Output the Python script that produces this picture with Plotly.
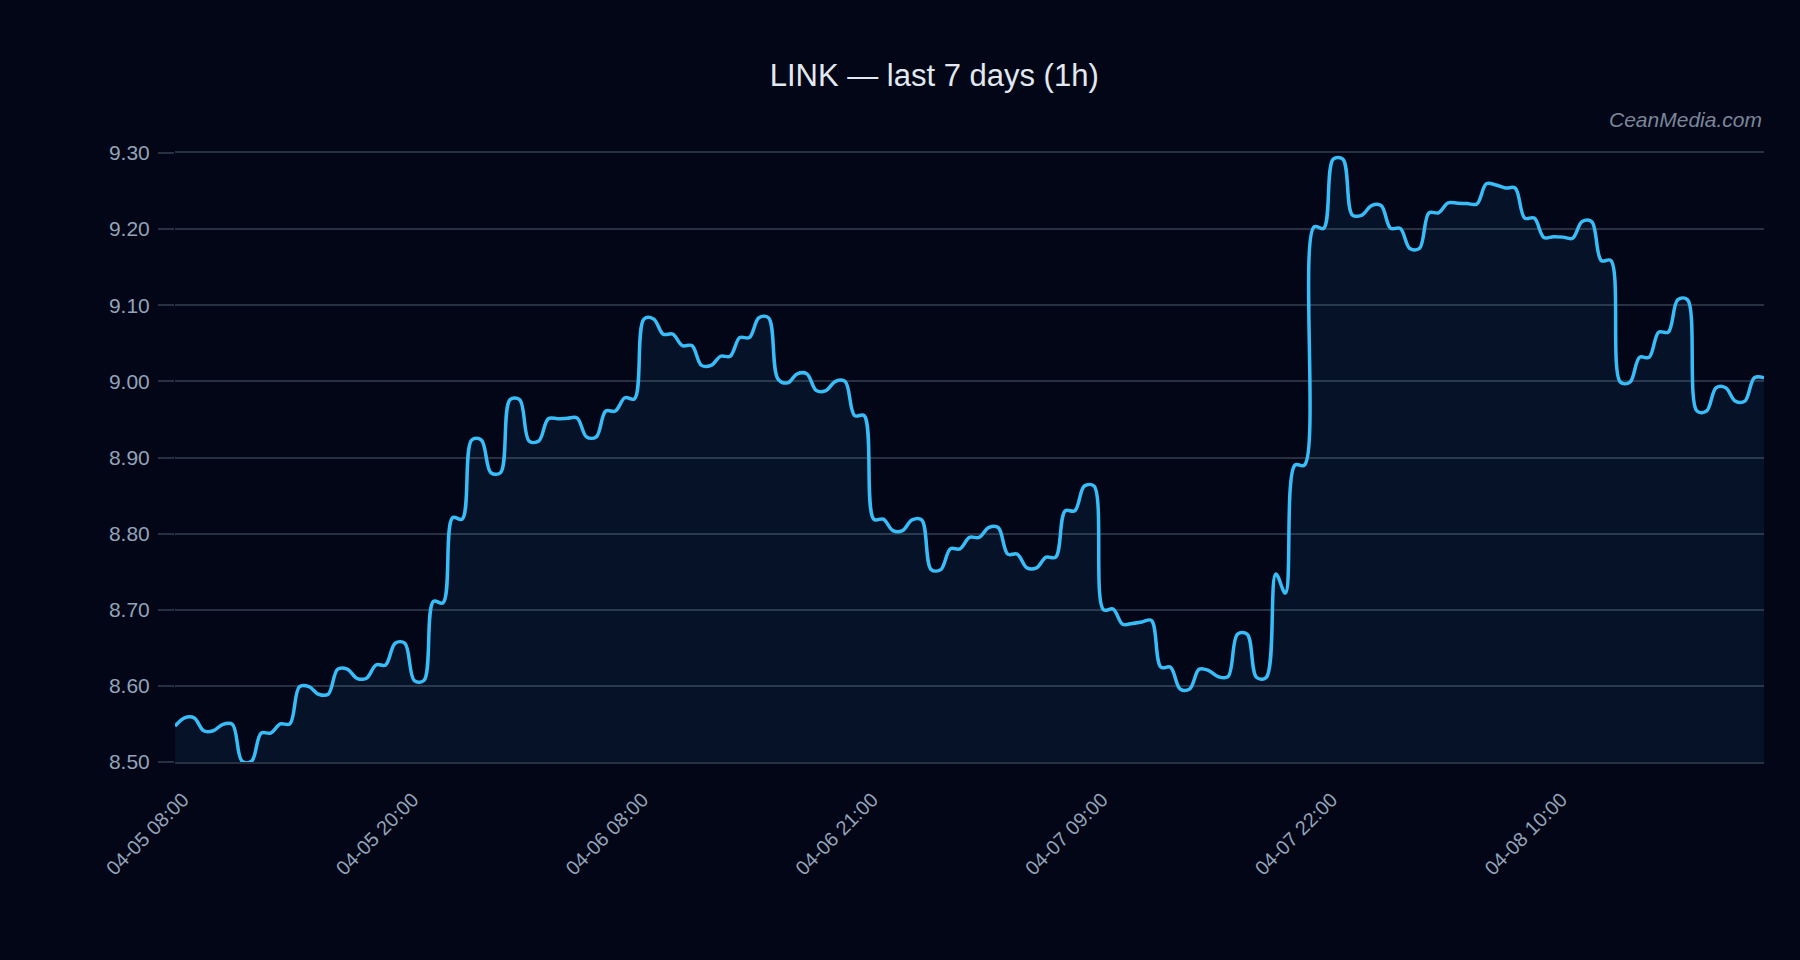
import plotly.graph_objects as go

# ---- data ----
tick_labels = ["04-05 08:00", "04-05 20:00", "04-06 08:00", "04-06 21:00",
               "04-07 09:00", "04-07 22:00", "04-08 10:00"]
tick_index = [0, 24, 48, 72, 96, 120, 144]

prices = [
    8.547,
    8.558, 8.558, 8.541, 8.541, 8.5495, 8.5495, 8.501, 8.501, 8.538, 8.538,
    8.550, 8.550, 8.599, 8.599, 8.589, 8.589, 8.622, 8.622, 8.610, 8.610,
    8.6275, 8.6275, 8.656, 8.656, 8.607, 8.607, 8.711, 8.709, 8.821, 8.819,
    8.923, 8.923, 8.880, 8.880, 8.976, 8.976, 8.9216, 8.9216,
    8.951, 8.951, 8.9515, 8.952, 8.927, 8.927, 8.961, 8.961, 8.9785, 8.977,
    9.082, 9.082, 9.062, 9.062, 9.047, 9.047, 9.021, 9.021, 9.033, 9.033,
    9.0575, 9.0575, 9.0836, 9.0836, 9.003, 8.998, 9.010, 9.010, 8.988, 8.988,
    9.000, 9.000, 8.955, 8.955, 8.819, 8.819, 8.804, 8.804, 8.818, 8.818,
    8.7527, 8.7527, 8.780, 8.780, 8.795, 8.795, 8.808, 8.808, 8.773, 8.773,
    8.755, 8.755, 8.769, 8.769, 8.830, 8.830, 8.8625, 8.8625, 8.700, 8.701,
    8.681, 8.682, 8.684, 8.686, 8.6245, 8.6245, 8.596, 8.596, 8.622, 8.620,
    8.612, 8.612, 8.668, 8.668, 8.611, 8.611, 8.747, 8.722, 8.890, 8.890,
    9.203, 9.201, 9.292, 9.292, 9.2185, 9.2185, 9.231, 9.231, 9.201, 9.201,
    9.1746, 9.1746, 9.2214, 9.2214, 9.2345, 9.234, 9.2335, 9.233,
    9.2595, 9.258, 9.254, 9.254, 9.2145, 9.2145,
    9.189, 9.190, 9.1895, 9.188, 9.210, 9.210, 9.1587, 9.1587,
    8.999, 8.999, 9.0316, 9.0316, 9.0647, 9.0647, 9.1074, 9.1074,
    8.961, 8.961, 8.9917, 8.9917, 8.974, 8.974, 9.0048, 9.0048,
]
idx = list(range(len(prices)))

BG = "#020617"
GRID = "#283142"
TXT = "#94a3b8"

fig = go.Figure()
fig.add_trace(go.Scatter(
    x=idx, y=prices, mode="lines",
    line=dict(color="#38bdf8", width=3.5, shape="spline"),
    fill="tozeroy", fillcolor="rgba(56,189,248,0.07)",
    hoverinfo="skip", showlegend=False,
))

fig.update_layout(
    width=1800, height=960,
    paper_bgcolor=BG, plot_bgcolor=BG,
    margin=dict(l=175, r=36, t=153, b=198),
    font=dict(family="Liberation Sans, Arial, sans-serif", color=TXT, size=20),
    title=dict(text="LINK — last 7 days (1h)", x=0.519, xanchor="center",
               y=1 - 75 / 960, yanchor="middle",
               font=dict(size=31, color="#e2e8f0")),
    xaxis=dict(
        range=[0, len(prices) - 1], tickmode="array",
        tickvals=tick_index, ticktext=tick_labels, tickangle=-45,
        showgrid=False, zeroline=False,
        showline=True, mirror=True, linecolor=GRID, linewidth=2,
        ticks="outside", ticklen=16, tickcolor="rgba(0,0,0,0)",
        ticklabelshift=8,
        tickfont=dict(size=20, color=TXT),
    ),
    yaxis=dict(
        range=[8.5, 9.3], dtick=0.1, tickformat=".2f",
        showgrid=True, gridcolor=GRID, gridwidth=2, zeroline=False,
        ticks="outside", ticklen=16, tickcolor=GRID, tickwidth=2,
        ticklabelstandoff=4,
        tickfont=dict(size=21, color=TXT),
    ),
    annotations=[dict(
        text="CeanMedia.com", xref="paper", yref="paper", x=1, y=1.0553,
        xanchor="right", yanchor="middle", showarrow=False,
        font=dict(size=21, color="#7c869a", family="Liberation Sans, Arial, sans-serif"),
    )],
)
fig.update_annotations(font_style="italic")

fig.write_html("out.html")
